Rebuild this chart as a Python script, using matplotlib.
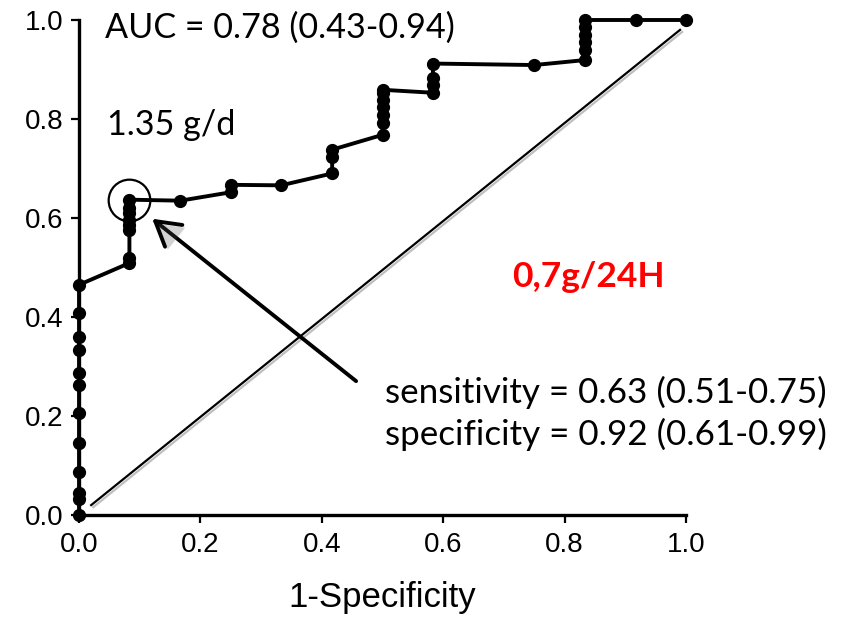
import matplotlib.pyplot as plt
import matplotlib.patheffects as pe

# ROC points (1-specificity, sensitivity)
fpr = [0, 0, 0, 0, 0, 0, 0, 0, 0, 0, 0, 0,
       0.083, 0.083, 0.083, 0.083, 0.083, 0.083, 0.083, 0.083,
       0.167, 0.25, 0.25, 0.333, 0.417, 0.417, 0.417,
       0.5, 0.5, 0.5, 0.5, 0.5, 0.5, 0.5,
       0.583, 0.583, 0.583, 0.583, 0.75,
       0.833, 0.833, 0.833, 0.833, 0.833, 0.833, 0.917, 1.0]
tpr = [0, 0.032, 0.044, 0.087, 0.145, 0.206, 0.263, 0.287, 0.333, 0.36, 0.408, 0.465,
       0.509, 0.519, 0.576, 0.586, 0.596, 0.61, 0.62, 0.637,
       0.635, 0.652, 0.667, 0.666, 0.69, 0.724, 0.738,
       0.768, 0.792, 0.808, 0.824, 0.838, 0.853, 0.859,
       0.853, 0.869, 0.883, 0.912, 0.909,
       0.919, 0.94, 0.955, 0.97, 0.985, 1.0, 1.0, 1.0]
cut_point = (0.083, 0.637)

auc_txt = 'AUC = 0.78 (0.43-0.94)'
thr_txt = '1.35 g/d'
red_txt = '0,7g/24H'
sens_txt = 'sensitivity = 0.63 (0.51-0.75)'
spec_txt = 'specificity = 0.92 (0.61-0.99)'
ticks = [0.0, 0.2, 0.4, 0.6, 0.8, 1.0]

fig = plt.figure(figsize=(8.47, 6.17), dpi=100)
ax = fig.add_axes([0.0933, 0.1653, 0.7167, 0.8023])

ax.plot([0.02, 0.99], [0.02, 0.98], color='black', lw=1.6,
        path_effects=[pe.SimpleLineShadow(offset=(1.5, -1.5), alpha=0.25), pe.Normal()])
ax.plot(fpr, tpr, '-o', color='black', lw=2.8, ms=8.5, clip_on=False, zorder=4)
ax.plot(*cut_point, 'o', ms=30, mfc='none', mec='black', mew=1.6, clip_on=False, zorder=5)

ax.annotate('', xy=(0.117, 0.602), xytext=(0.46, 0.267),
            arrowprops=dict(arrowstyle='->,head_length=0.85,head_width=0.5', lw=2.8,
                            color='black', mutation_scale=20,
                            path_effects=[pe.withSimplePatchShadow(offset=(2, -2), alpha=0.25)]))

txt_font = ['Lato', 'DejaVu Sans']
ax.text(0.043, 0.964, auc_txt, fontsize=24.6, family=txt_font, va='baseline')
ax.text(0.046, 0.768, thr_txt, fontsize=24.6, family=txt_font, va='baseline')
ax.text(0.713, 0.461, red_txt, fontsize=25.5, family=txt_font, fontweight='bold',
        color='#ff0000', va='baseline')
ax.text(0.504, 0.226, sens_txt, fontsize=25.2, family=txt_font, va='baseline')
ax.text(0.504, 0.141, spec_txt, fontsize=25.2, family=txt_font, va='baseline')

ax.set_xlim(0, 1)
ax.set_ylim(0, 1)
ax.set_xticks(ticks)
ax.set_yticks(ticks)
ax.set_xticklabels([f'{t:.1f}' for t in ticks], family='Liberation Sans')
ax.set_yticklabels([f'{t:.1f}' for t in ticks], family='Liberation Sans')
ax.tick_params(labelsize=20, length=6, width=1.6, direction='out')
ax.tick_params(axis='x', pad=6)
ax.tick_params(axis='y', pad=5)
for s in ['top', 'right']:
    ax.spines[s].set_visible(False)
for s in ['left', 'bottom']:
    ax.spines[s].set_linewidth(2.4)
ax.set_xlabel('1-Specificity', fontsize=25, family='Liberation Sans', labelpad=17)

fig.savefig('out.png', dpi=100)
